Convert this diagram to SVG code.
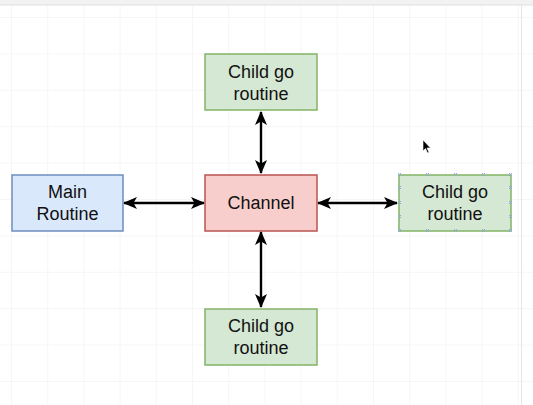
<svg xmlns="http://www.w3.org/2000/svg" width="533" height="405" viewBox="0 0 533 405">
<defs>
<pattern id="grid" x="11" y="17" width="36.2" height="36.4" patternUnits="userSpaceOnUse">
<path d="M0 0V36.4M0 0H36.2" fill="none" stroke="#eeeeee" stroke-width="1"/>
</pattern>
<marker id="ah" viewBox="0 0 14 12" refX="13" refY="6" markerWidth="14" markerHeight="12" markerUnits="userSpaceOnUse" orient="auto-start-reverse">
<path d="M0 0L14 6L0 12L3.5 6Z" fill="#000"/>
</marker>
<style>
.n rect{stroke-width:1.5}
.blue rect{fill:#dae8fc;stroke:#6c8ebf}
.green rect{fill:#d5e8d4;stroke:#82b366}
.red rect{fill:#f8cecc;stroke:#b85450}
text{font-family:"Liberation Sans",Arial,sans-serif;font-size:18px;fill:#111;text-anchor:middle}
.c line{stroke:#000;stroke-width:2.4;marker-start:url(#ah);marker-end:url(#ah)}
.h{stroke:#8fa8e0;stroke-width:1}
</style>
</defs>
<rect width="533" height="405" fill="#fff"/>
<rect width="533" height="405" fill="url(#grid)"/>
<rect width="533" height="5" fill="#f2f2f2"/>
<line x1="0" y1="5" x2="533" y2="5" stroke="#e0e0e0"/>
<line x1="521.5" y1="5" x2="521.5" y2="405" stroke="#e6e6e6"/>
<g class="c" id="connectors">
<line x1="124" y1="203" x2="204" y2="203"/>
<line x1="318" y1="203" x2="397" y2="203"/>
<line x1="261" y1="112" x2="261" y2="173"/>
<line x1="261" y1="232" x2="261" y2="307"/>
</g>
<g id="main" class="n blue">
<rect x="12" y="175" width="111" height="56"/>
<text x="67.5" y="198">Main</text>
<text x="67.5" y="220">Routine</text>
</g>
<g id="channel" class="n red">
<rect x="205" y="175" width="112" height="56"/>
<text x="261" y="209">Channel</text>
</g>
<g id="child-top" class="n green">
<rect x="205" y="54" width="112" height="56"/>
<text x="261" y="78">Child go</text>
<text x="261" y="100">routine</text>
</g>
<g id="child-right" class="n green">
<rect x="399" y="175" width="112" height="56"/>
<text x="455" y="198">Child go</text>
<text x="455" y="220">routine</text>
</g>
<g id="child-bottom" class="n green">
<rect x="205" y="309" width="112" height="56"/>
<text x="261" y="332">Child go</text>
<text x="261" y="354">routine</text>
</g>
<g id="handles" class="h">
<path d="M398 173l3 3m0-3l-3 3M426 173l3 3m0-3l-3 3M454 173l3 3m0-3l-3 3M482 173l3 3m0-3l-3 3M509 173l3 3m0-3l-3 3"/>
<path d="M398 229l3 3m0-3l-3 3M426 229l3 3m0-3l-3 3M454 229l3 3m0-3l-3 3M482 229l3 3m0-3l-3 3M509 229l3 3m0-3l-3 3"/>
<path d="M398 186l3 3m0-3l-3 3M398 201l3 3m0-3l-3 3M398 215l3 3m0-3l-3 3M509 186l3 3m0-3l-3 3M509 201l3 3m0-3l-3 3M509 215l3 3m0-3l-3 3"/>
</g>
<path d="M423 140L423 151L425.5 148.5L427.5 153L429 152.3L427 148L430.5 148Z" fill="#000" stroke="#fff" stroke-width="0.6"/>
</svg>
